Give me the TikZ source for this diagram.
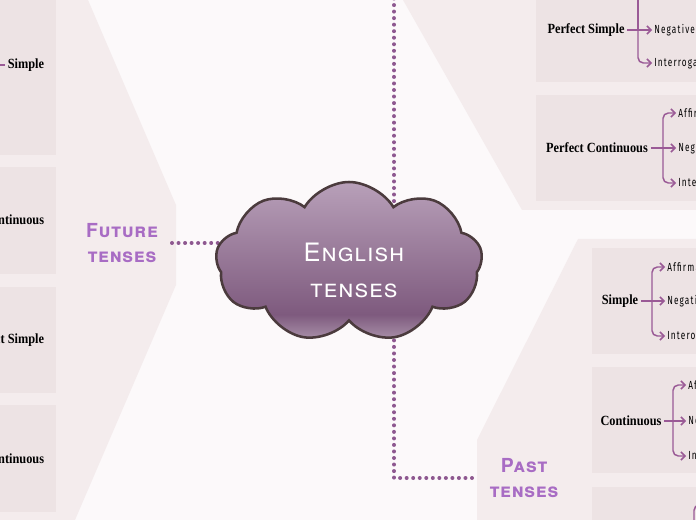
\documentclass[tikz,border=0pt]{standalone}
\usepackage{fontspec}
\usetikzlibrary{arrows.meta,shapes.symbols}
\setmainfont{Liberation Serif}
\newfontfamily\headfont[LetterSpace=4]{TeX Gyre Heros}
\newfontfamily\branchfont[FakeStretch=0.88]{Liberation Serif}
\newfontfamily\leaffont[FakeStretch=0.7,LetterSpace=10]{Fira Sans}

\definecolor{etbg}{HTML}{FCF9FA}
\definecolor{etpanel}{HTML}{F4ECED}
\definecolor{etbox}{HTML}{EDE3E4}
\definecolor{etline}{HTML}{9A5A96}
\definecolor{etdot}{HTML}{8E5890}
\definecolor{ettitle}{HTML}{A86CC4}
\definecolor{etcloudtop}{HTML}{B8A0B9}
\definecolor{etclouddark}{HTML}{7E5A7E}
\definecolor{etcloudlow}{HTML}{AA92AA}
\definecolor{etrim}{HTML}{4B3B3D}

\pgfdeclareverticalshading{etcloud}{100bp}{color(0bp)=(etcloudlow); color(25bp)=(etcloudlow); color(33bp)=(etclouddark); color(75bp)=(etcloudtop); color(100bp)=(etcloudtop)}

\pgfdeclarelayer{ground}
\pgfdeclarelayer{links}
\pgfsetlayers{ground,links,main}

\begin{document}
\begin{tikzpicture}[x=0.75pt,y=-0.75pt,
  branch/.style={font=\branchfont\bfseries\fontsize{10.5}{12}\selectfont, inner sep=2pt},
  leaf/.style={font=\leaffont\fontsize{8.8}{10}\selectfont, anchor=west, inner sep=1.5pt},
  twig/.style={etline, line width=1.1pt},
  twigarrow/.style={twig, -{Straight Barb[length=3pt,width=6pt]}},
  dotlink/.style={etdot, line width=3pt, line cap=round, dash pattern=on 0pt off 4.9pt},
  grouptitle/.style={font=\headfont\bfseries\scshape\fontsize{14.5}{18.5}\selectfont, text=ettitle, align=center, text width=74pt, inner xsep=0pt}]
\useasboundingbox (0,0) rectangle (696,520);
\begin{pgfonlayer}{ground}
\fill[etbg] (0,0) rectangle (696,520);
\fill[etpanel] (0,0) -- (88,0) -- (176,205) -- (176,285) -- (75,520) -- (0,520) -- cycle;
\fill[etpanel] (403,0) -- (522,210) -- (696,210) -- (696,0) -- cycle;
\fill[etpanel] (578,239) -- (696,239) -- (696,520) -- (477,520) -- (477,440) -- cycle;
\fill[etbox] (-10,-10) rectangle (56,155);
\fill[etbox] (-10,167) rectangle (56,274);
\fill[etbox] (-10,287) rectangle (56,393);
\fill[etbox] (-10,405) rectangle (56,512);
\fill[etbox] (536,-10) rectangle (706,82);
\fill[etbox] (536,95) rectangle (706,201);
\fill[etbox] (592,248) rectangle (706,354);
\fill[etbox] (592,367) rectangle (706,473);
\fill[etbox] (592,487) rectangle (706,530);
\end{pgfonlayer}

\node[cloud, cloud puffs=9, cloud puff arc=118, cloud ignores aspect, minimum width=200pt, minimum height=120pt, draw=etrim, line width=1.9pt, shading=etcloud] (core) at (349,262) {};
\node[font=\headfont\scshape\fontsize{19}{27}\selectfont, text=white, align=center] (coretitle) at (354,270) {English\\tenses};

\node[grouptitle] (future) at (122,243) {Future\\tenses};
\node[grouptitle] (past) at (524,478) {Past\\tenses};
\coordinate (presenttop) at (394,-8);
\coordinate (pastbend) at (394,478);

\begin{pgfonlayer}{links}
\draw[dotlink] (core.center) -- (core.center |- future) -- (future.east);
\draw[dotlink] (presenttop) -- (presenttop |- core.center);
\draw[dotlink] (presenttop |- core.center) -- (pastbend) -- (past.west);
\end{pgfonlayer}

\node[branch, anchor=east] (fsimple) at (47,65) {Simple};
\node[branch, anchor=east] (fcont) at (47,220) {Continuous};
\node[branch, anchor=east] (fpsimple) at (47,340) {Perfect Simple};
\node[branch, anchor=east] (fpcont) at (47,459) {Perfect Continuous};
\coordinate (fsfork) at (-14,65);
\draw[twig] (fsimple.west) -- (fsfork);

\node[branch] (prpsimple) at (586,30) {Perfect Simple};
\coordinate (prpsfork) at (638,30);
\node[leaf] (prpsneg) at (652,30) {Negative};
\node[leaf] (prpsint) at (652,63) {Interrogative};
\draw[twigarrow] (prpsimple.east) -- (prpsneg.west);
\draw[twigarrow, rounded corners=4pt] (prpsfork) |- (prpsint.west);
\draw[twig] (prpsfork) -- (prpsfork |- presenttop);

\node[branch] (prpcont) at (597,148) {Perfect Continuous};
\coordinate (prpcfork) at (663,148);
\node[leaf] (prpcaff) at (676,113) {Affirmative};
\node[leaf] (prpcneg) at (676,148) {Negative};
\node[leaf] (prpcint) at (676,183) {Interrogative};
\draw[twigarrow] (prpcont.east) -- (prpcneg.west);
\draw[twigarrow, rounded corners=4pt] (prpcfork) |- (prpcaff.west);
\draw[twigarrow, rounded corners=4pt] (prpcfork) |- (prpcint.west);

\node[branch] (psimple) at (620,301) {Simple};
\coordinate (psfork) at (652,301);
\node[leaf] (psaff) at (665,267) {Affirmative};
\node[leaf] (psneg) at (665,301) {Negative};
\node[leaf] (psint) at (665,336) {Interogative};
\draw[twigarrow] (psimple.east) -- (psneg.west);
\draw[twigarrow, rounded corners=4pt] (psfork) |- (psaff.west);
\draw[twigarrow, rounded corners=4pt] (psfork) |- (psint.west);

\node[branch] (pcont) at (631,421) {Continuous};
\coordinate (pcfork) at (673,421);
\node[leaf] (pcaff) at (686,385) {Affirmative};
\node[leaf] (pcneg) at (686,421) {Negative};
\node[leaf] (pcint) at (686,456) {Interrogative};
\draw[twigarrow] (pcont.east) -- (pcneg.west);
\draw[twigarrow, rounded corners=4pt] (pcfork) |- (pcaff.west);
\draw[twigarrow, rounded corners=4pt] (pcfork) |- (pcint.west);

\coordinate (ppsfork) at (694,540);
\coordinate (ppsaff) at (712,505);
\draw[twig, rounded corners=4pt] (ppsfork) |- (ppsaff);
\end{tikzpicture}
\end{document}
